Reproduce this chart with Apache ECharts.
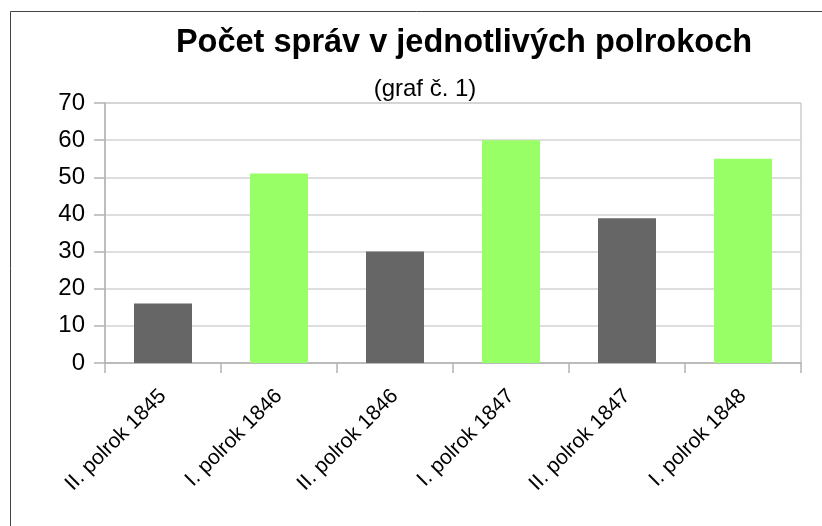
<!DOCTYPE html>
<html>
<head>
<meta charset="utf-8">
<script src="https://cdn.jsdelivr.net/npm/echarts@6/dist/echarts.min.js"></script>
<style>html,body{margin:0;padding:0;background:#fff}#c{width:822px;height:526px}</style>
</head>
<body>
<div id="c"></div>
<script>
const categories = ['II. polrok 1845','I. polrok 1846','II. polrok 1846','I. polrok 1847','II. polrok 1847','I. polrok 1848'];
const values = [16, 51, 30, 60, 39, 55];
const barColors = ['#666666','#99ff66','#666666','#99ff66','#666666','#99ff66'];
const yTicks = {min: 0, max: 70, interval: 10};

const chart = echarts.init(document.getElementById('c'));
const font = 'Liberation Sans, Arial, sans-serif';
chart.setOption({
  animation: false,
  backgroundColor: '#ffffff',
  title: [
    {text: 'Počet správ v jednotlivých polrokoch', left: 459, top: 22, textAlign: 'center',
     textStyle: {fontFamily: font, fontSize: 32.5, fontWeight: 'bold', color: '#000'}},
    {text: '(graf č. 1)', left: 420, top: 72, textAlign: 'center',
     textStyle: {fontFamily: font, fontSize: 24, fontWeight: 'normal', color: '#000'}}
  ],
  graphic: [{
    type: 'polyline', silent: true,
    shape: {points: [[10.5, 526], [10.5, 11.5], [822, 11.5]]},
    style: {stroke: '#444444', lineWidth: 1, fill: null}
  }],
  grid: {left: 105, right: 21, top: 103, bottom: 163, show: true, borderColor: '#b3b3b3', borderWidth: 1},
  xAxis: {
    type: 'category', data: categories, boundaryGap: true,
    axisLine: {show: true, lineStyle: {color: '#b3b3b3', width: 1.5}},
    axisTick: {show: true, length: 10, alignWithLabel: false, lineStyle: {color: '#b3b3b3', width: 1.5}},
    axisLabel: {rotate: 45, margin: 30, interval: 0, fontFamily: font, fontSize: 21, color: '#000'}
  },
  yAxis: {
    type: 'value', min: yTicks.min, max: yTicks.max, interval: yTicks.interval,
    axisLine: {show: true, lineStyle: {color: '#b3b3b3', width: 1.5}},
    axisTick: {show: true, length: 11, lineStyle: {color: '#b3b3b3', width: 1.5}},
    splitLine: {show: true, lineStyle: {color: '#d3d3d3', width: 1.5}},
    axisLabel: {margin: 20, fontFamily: font, fontSize: 24, color: '#000'}
  },
  series: [{
    type: 'bar', barWidth: '50%',
    data: values.map((v, i) => ({value: v, itemStyle: {color: barColors[i]}}))
  }]
});
</script>
</body>
</html>
